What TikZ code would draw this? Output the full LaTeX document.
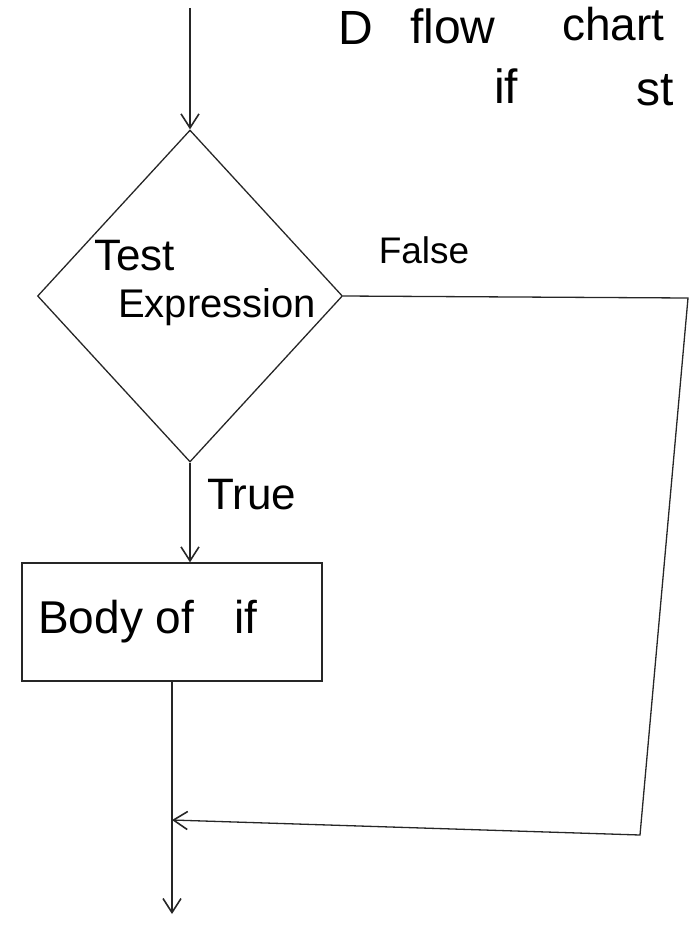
\documentclass[tikz,border=0pt]{standalone}
\usepackage{fontspec}
\setmainfont{Liberation Sans}
\usetikzlibrary{shapes.geometric,arrows.meta}
\begin{document}
\begin{tikzpicture}[x=1pt,y=-1pt,
  ink/.style={line width=1.3pt,draw=black!85},
  arr/.style={ink,-{Straight Barb[length=14pt,width=18pt,line width=1.6pt]}},
  hand/.style={font=\fontsize{#1}{#1}\selectfont,inner sep=0pt},
  hand/.default=36]
\useasboundingbox (0,0) rectangle (692,934);

% heading
\node[hand=48] (hd) at (356,28) {D};
\node[hand=48,anchor=west] (hflow) at (410,26) {flow};
\node[hand=46,anchor=west] (hchart) at (562,24) {chart};
\node[hand=48,anchor=west] (hif) at (494,86) {if};
\node[hand=48,anchor=west] (hst) at (636,90) {st};

% decision
\node[ink,diamond,minimum width=305,minimum height=332,inner sep=0pt] (test) at (190,296) {};
\node[hand=44,anchor=west] (t1) at (94,256) {Test};
\node[hand=40,anchor=west] (t2) at (118,307) {Expression};

% body of the if
\node[ink,rectangle,minimum width=300,minimum height=118] (body) at (172,622) {};
\node[hand=46,anchor=west] (btext) at (38,622) {Body of\hspace{40pt}if};

% connectors
\coordinate (start) at (test.north |- 0,8);
\coordinate (c1) at (688,298);
\coordinate (c2) at (640,835);
\coordinate (merge) at (body.south |- 0,820);
\coordinate (finish) at (body.south |- 0,914);

\draw[arr] (start) -- (test.north);
\draw[arr] (test.south) -- (test.south |- body.north);
\draw[ink] (body.south) -- (merge);
\draw[arr] (merge) -- (finish);
\draw[arr] (test.east) -- (c1) -- (c2) -- (merge);

% branch labels
\node[hand=37] (lfalse) at (424,250) {False};
\node[hand=44] (ltrue) at (252,495) {True};
\end{tikzpicture}
\end{document}
